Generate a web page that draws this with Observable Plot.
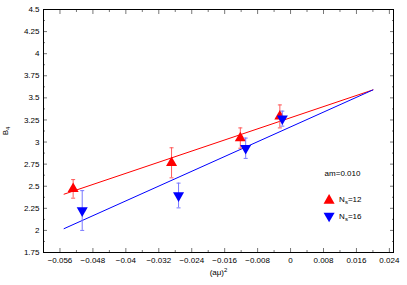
<!DOCTYPE html>
<html><head><meta charset="utf-8">
<script src="https://cdn.jsdelivr.net/npm/d3@7"></script>
<script src="https://cdn.jsdelivr.net/npm/@observablehq/plot@0.6"></script>
<style>
body{margin:0;background:#fff}
#chart svg{display:block;font-family:"Liberation Sans",Arial,sans-serif}
</style>
</head><body><div id="chart"></div>
<script>
// ---- data ----
const x12 = [-0.0528, -0.0289, -0.0122, -0.0026];
const y12 = [2.47, 2.765, 3.045, 3.29];
const e12 = [0.105, 0.17, 0.115, 0.13];
const x16 = [-0.0506, -0.0272, -0.0109, -0.0020];
const y16 = [2.225, 2.395, 2.93, 3.265];
const e16 = [0.225, 0.14, 0.115, 0.085];
const fitX = [-0.055, 0.02];
const fit12 = [2.41, 3.59];
const fit16 = [2.02, 3.59];
const xTicks = [-0.056, -0.048, -0.04, -0.032, -0.024, -0.016, -0.008, 0, 0.008, 0.016, 0.024];
const xMinor = [-0.052, -0.044, -0.036, -0.028, -0.02, -0.012, -0.004, 0.004, 0.012, 0.02];
const yTicks = [1.75, 2, 2.25, 2.5, 2.75, 3, 3.25, 3.5, 3.75, 4, 4.25, 4.5];
const yMinor = [1.875, 2.125, 2.375, 2.625, 2.875, 3.125, 3.375, 3.625, 3.875, 4.125, 4.375];
const xLabel = "(aμ)^2";
const yLabel = "B_4";
const legendTitle = "am=0.010";
const seriesLabels = ["N_s=12", "N_s=16"];

const rows = (xs, ys, es) => xs.map((x, i) => ({x, y: ys[i], lo: ys[i] - es[i], hi: ys[i] + es[i]}));
const pts12 = rows(x12, y12, e12);
const pts16 = rows(x16, y16, e16);
const line12 = fitX.map((x, i) => ({x, y: fit12[i]}));
const line16 = fitX.map((x, i) => ({x, y: fit16[i]}));

const sqrt3 = Math.sqrt(3);
const triangleDown = {draw(ctx, size) {
  const y = Math.sqrt(size / (sqrt3 * 3));
  ctx.moveTo(0, y * 2); ctx.lineTo(-sqrt3 * y, -y); ctx.lineTo(sqrt3 * y, -y); ctx.closePath();
}};
const cap = {draw(ctx) { ctx.moveTo(-2, 0); ctx.lineTo(2, 0); }};

const fmtX = d => d === 0 ? "0" : String(d).replace("-", "\u2212");
const blank = () => "";
const tickGray = "#777";
const red = "#ff0000", blue = "#0000ff";
const redBar = "#ff5a5a", blueBar = "#7878ff";

function errMarks(pts, col) {
  return [
    Plot.ruleX(pts, {x: "x", y1: "lo", y2: "hi", stroke: col, strokeWidth: 1}),
    Plot.dot(pts, {x: "x", y: "lo", symbol: cap, r: 2, stroke: col, fill: "none", strokeWidth: 1}),
    Plot.dot(pts, {x: "x", y: "hi", symbol: cap, r: 2, stroke: col, fill: "none", strokeWidth: 1})
  ];
}

const plot = Plot.plot({
  width: 407, height: 285,
  marginLeft: 43, marginRight: 14, marginTop: 9, marginBottom: 33,
  style: {fontFamily: "Liberation Sans, Arial, sans-serif", fontSize: "8px", background: "#fff", color: "#000"},
  x: {domain: [-0.06, 0.025]},
  y: {domain: [1.75, 4.5]},
  marks: [
    Plot.axisX({ticks: xTicks, tickSize: -4, tickPadding: 8.5, tickFormat: fmtX, stroke: tickGray, fill: "#000", label: null}),
    Plot.axisX({ticks: xMinor, tickSize: -2, tickPadding: 0, tickFormat: blank, stroke: tickGray, label: null}),
    Plot.axisX({anchor: "top", ticks: xTicks, tickSize: -4, tickFormat: blank, stroke: tickGray, label: null}),
    Plot.axisX({anchor: "top", ticks: xMinor, tickSize: -2, tickFormat: blank, stroke: tickGray, label: null}),
    Plot.axisY({ticks: yTicks, tickSize: -4, tickPadding: 8, tickFormat: String, stroke: tickGray, fill: "#000", label: null}),
    Plot.axisY({ticks: yMinor, tickSize: -2, tickFormat: blank, stroke: tickGray, label: null}),
    Plot.axisY({anchor: "right", ticks: yTicks, tickSize: -4, tickFormat: blank, stroke: tickGray, label: null}),
    Plot.axisY({anchor: "right", ticks: yMinor, tickSize: -2, tickFormat: blank, stroke: tickGray, label: null}),
    Plot.frame({stroke: "#000", strokeWidth: 1}),
    Plot.line(line12, {x: "x", y: "y", stroke: red, strokeWidth: 1}),
    Plot.line(line16, {x: "x", y: "y", stroke: blue, strokeWidth: 1}),
    ...errMarks(pts12, redBar),
    Plot.dot(pts12, {x: "x", y: "y", symbol: "triangle", r: 4.1, fill: red, stroke: "none"}),
    ...errMarks(pts16, blueBar),
    Plot.dot(pts16, {x: "x", y: "y", symbol: triangleDown, r: 4.1, fill: blue, stroke: "none"}),
    Plot.text([xLabel], {frameAnchor: "bottom", dy: 20, textAnchor: "middle", lineAnchor: "middle", fontSize: 8, fill: "#000"}),
    Plot.text([yLabel], {frameAnchor: "left", dx: -38, rotate: -90, textAnchor: "middle", lineAnchor: "middle", fontSize: 8, fill: "#000"}),
    Plot.text([legendTitle], {frameAnchor: "bottom-right", dx: -51, dy: -79, textAnchor: "middle", lineAnchor: "middle", fontSize: 8, fill: "#000"}),
    Plot.dot([seriesLabels[0]], {x: null, y: null, frameAnchor: "bottom-right", dx: -64.4, dy: -52, symbol: "triangle", r: 4.1, fill: red, stroke: "none"}),
    Plot.dot([seriesLabels[1]], {x: null, y: null, frameAnchor: "bottom-right", dx: -64.4, dy: -36.6, symbol: triangleDown, r: 4.1, fill: blue, stroke: "none"}),
    Plot.text([seriesLabels[0]], {frameAnchor: "bottom-right", dx: -54.4, dy: -53.4, textAnchor: "start", lineAnchor: "middle", fontSize: 8, fill: "#000"}),
    Plot.text([seriesLabels[1]], {frameAnchor: "bottom-right", dx: -54.4, dy: -36, textAnchor: "start", lineAnchor: "middle", fontSize: 8, fill: "#000"})
  ]
});

// sub/superscripts written as "_x" and "^x"
const ns = "http://www.w3.org/2000/svg";
plot.querySelectorAll("text").forEach(t => {
  const s = t.textContent;
  if (!/[_^]\w/.test(s) || t.querySelector("tspan")) return;
  const segs = [];
  const re = /([_^])(\w)/g;
  let last = 0, m;
  while ((m = re.exec(s))) {
    if (m.index > last) segs.push({text: s.slice(last, m.index), shift: 0});
    segs.push({text: m[2], shift: m[1] === "_" ? 2 : -3});
    last = re.lastIndex;
  }
  if (last < s.length) segs.push({text: s.slice(last), shift: 0});
  t.textContent = "";
  let cur = 0;
  for (const g of segs) {
    const sp = document.createElementNS(ns, "tspan");
    if (g.shift !== cur) sp.setAttribute("dy", g.shift - cur);
    if (g.shift !== 0) sp.setAttribute("font-size", "6");
    cur = g.shift;
    sp.textContent = g.text;
    t.appendChild(sp);
  }
});
document.getElementById("chart").appendChild(plot);
</script>
</body></html>
